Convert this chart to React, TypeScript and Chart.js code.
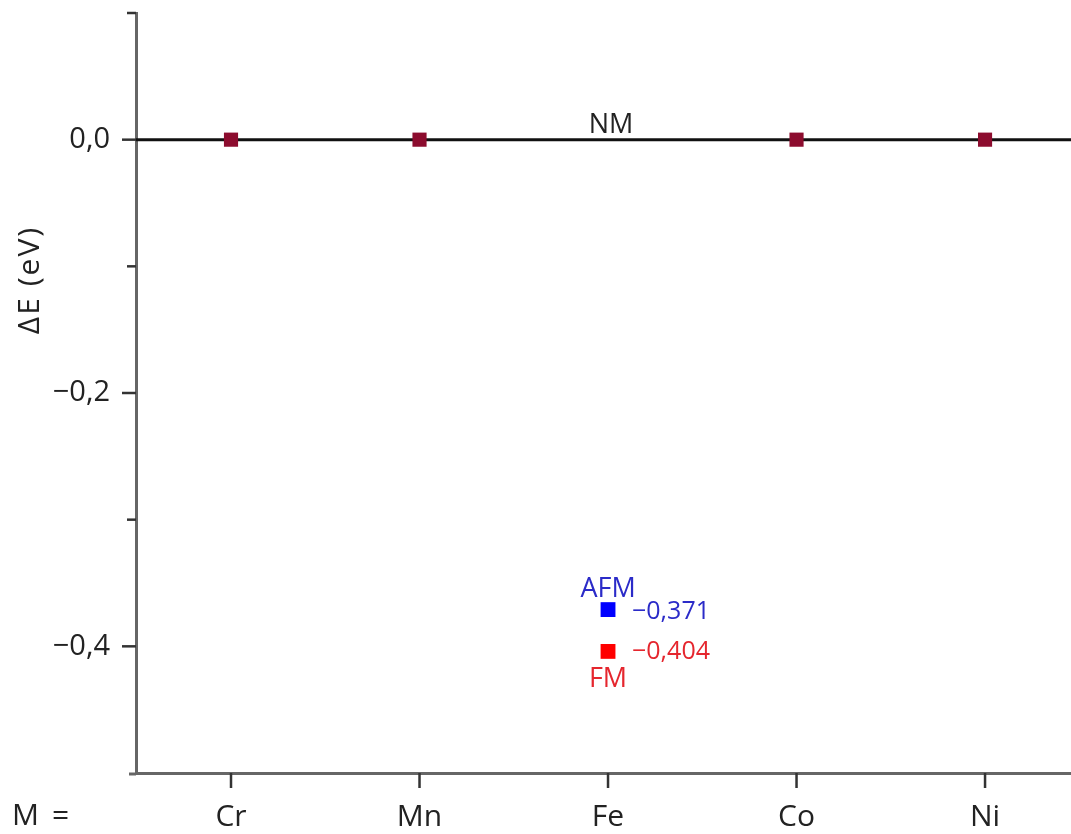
import React, { useEffect, useRef } from "react";
import { Chart, registerables } from "chart.js";

Chart.register(...registerables);

const categories = ["Cr", "Mn", "Fe", "Co", "Ni"];
const categoryPositions = [1, 2, 3, 4, 5];
const nmValues = [0, 0, null, 0, 0];
const afmValues = [null, null, -0.371, null, null];
const fmValues = [null, null, -0.404, null, null];
const yMajorTicks = [0, -0.2, -0.4];
const yMinorTicks = [0.1, -0.1, -0.3];
const afmLabel = "−0,371";
const fmLabel = "−0,404";

const FONT = "'Open Sans', 'DejaVu Sans', sans-serif";

function toPoints(values: (number | null)[]) {
  const pts: { x: number; y: number }[] = [];
  values.forEach((v, i) => {
    if (v !== null) pts.push({ x: categoryPositions[i], y: v });
  });
  return pts;
}

function fmt(v: number) {
  const s = Math.abs(v).toFixed(1).replace(".", ",");
  return v < -1e-9 ? "−" + s : s;
}

const overlayPlugin = {
  id: "overlay",
  beforeDatasetsDraw(chart: any) {
    const { ctx, chartArea, scales } = chart;
    const y0 = scales.y.getPixelForValue(0);
    ctx.save();
    ctx.strokeStyle = "#111";
    ctx.lineWidth = 3;
    ctx.beginPath();
    ctx.moveTo(chartArea.left, y0);
    ctx.lineTo(chartArea.right, y0);
    ctx.stroke();
    ctx.restore();
  },
  afterDraw(chart: any) {
    const { ctx, chartArea, scales } = chart;
    const xs = scales.x;
    const ys = scales.y;
    ctx.save();
    // y ticks
    ctx.strokeStyle = "#333";
    ctx.lineWidth = 2.5;
    yMajorTicks.forEach((v) => {
      const p = ys.getPixelForValue(v);
      ctx.beginPath();
      ctx.moveTo(chartArea.left - 14, p);
      ctx.lineTo(chartArea.left, p);
      ctx.stroke();
    });
    yMinorTicks.forEach((v) => {
      const p = ys.getPixelForValue(v);
      ctx.beginPath();
      ctx.moveTo(chartArea.left - 9, p);
      ctx.lineTo(chartArea.left, p);
      ctx.stroke();
    });
    // x ticks
    categoryPositions.forEach((v) => {
      const p = xs.getPixelForValue(v);
      ctx.beginPath();
      ctx.moveTo(p, chartArea.bottom);
      ctx.lineTo(p, chartArea.bottom + 15);
      ctx.stroke();
    });
    // x axis stub left of y axis
    ctx.strokeStyle = "#666";
    ctx.lineWidth = 3;
    ctx.beginPath();
    ctx.moveTo(chartArea.left - 7, chartArea.bottom + 1);
    ctx.lineTo(chartArea.left, chartArea.bottom + 1);
    ctx.stroke();

    // y axis title
    ctx.fillStyle = "#222";
    ctx.font = `30px ${FONT}`;
    ctx.textAlign = "center";
    ctx.textBaseline = "middle";
    ctx.save();
    ctx.translate(30, 280);
    ctx.rotate(-Math.PI / 2);
    (ctx as any).letterSpacing = "2px";
    ctx.fillText("ΔE (eV)", 0, 0);
    ctx.restore();

    // M =
    ctx.textAlign = "left";
    ctx.textBaseline = "alphabetic";
    ctx.font = `30px ${FONT}`;
    ctx.fillText("M", 12, 825);
    ctx.fillText("=", 52, 825);

    // NM label
    const xFe = xs.getPixelForValue(categoryPositions[2]);
    ctx.textAlign = "center";
    ctx.font = `27px ${FONT}`;
    ctx.fillStyle = "#222";
    ctx.fillText("NM", xFe + 3, ys.getPixelForValue(0) - 7);

    // AFM / FM
    const yAfm = ys.getPixelForValue(afmValues[2] as number);
    const yFm = ys.getPixelForValue(fmValues[2] as number);
    ctx.fillStyle = "#2b2bc8";
    ctx.fillText("AFM", xFe, yAfm - 13);
    ctx.textAlign = "left";
    ctx.font = `25px ${FONT}`;
    ctx.fillText(afmLabel, xFe + 24, yAfm + 9);

    ctx.fillStyle = "#e5262e";
    ctx.fillText(fmLabel, xFe + 24, yFm + 8);
    ctx.textAlign = "center";
    ctx.font = `27px ${FONT}`;
    ctx.fillText("FM", xFe, yFm + 36);
    ctx.restore();
  },
};

export default function App() {
  const canvasRef = useRef<HTMLCanvasElement | null>(null);

  useEffect(() => {
    document.body.style.margin = "0";
    const canvas = canvasRef.current;
    if (!canvas) return;
    const chart = new Chart(canvas, {
      type: "scatter",
      data: {
        datasets: [
          {
            label: "NM",
            data: toPoints(nmValues),
            pointStyle: "rect",
            pointRadius: 10,
            pointHoverRadius: 10,
            backgroundColor: "#8c0c2e",
            borderColor: "#8c0c2e",
            borderWidth: 0,
          },
          {
            label: "AFM",
            data: toPoints(afmValues),
            pointStyle: "rect",
            pointRadius: 10.5,
            pointHoverRadius: 10.5,
            backgroundColor: "#0000ff",
            borderColor: "#0000ff",
            borderWidth: 0,
          },
          {
            label: "FM",
            data: toPoints(fmValues),
            pointStyle: "rect",
            pointRadius: 10.5,
            pointHoverRadius: 10.5,
            backgroundColor: "#ff0000",
            borderColor: "#ff0000",
            borderWidth: 0,
          },
        ],
      },
      options: {
        animation: false,
        responsive: true,
        maintainAspectRatio: false,
        layout: { padding: { top: 13, right: 0, left: 0, bottom: 0 }, autoPadding: false },
        plugins: {
          legend: { display: false },
          tooltip: { enabled: false },
        },
        scales: {
          x: {
            type: "linear",
            min: 0.496,
            max: 5.456,
            grid: { display: false },
            border: { display: true, color: "#666", width: 3 },
            afterBuildTicks: (scale: any) => {
              scale.ticks = categoryPositions.map((v) => ({ value: v }));
            },
            afterFit: (scale: any) => {
              scale.height = 61;
              scale.paddingLeft = 0;
              scale.paddingRight = 0;
              scale.paddingTop = 0;
              scale.paddingBottom = 0;
            },
            ticks: {
              autoSkip: false,
              maxRotation: 0,
              padding: 18,
              color: "#222",
              font: { family: FONT, size: 30 },
              callback: (v: any) => {
                const i = categoryPositions.indexOf(Number(v));
                return i >= 0 ? categories[i] : "";
              },
            },
          },
          y: {
            type: "linear",
            min: -0.5,
            max: 0.1,
            grid: { display: false },
            border: { display: true, color: "#666", width: 3 },
            afterBuildTicks: (scale: any) => {
              scale.ticks = yMajorTicks.map((v) => ({ value: v }));
            },
            afterFit: (scale: any) => {
              scale.width = 136;
              scale.paddingLeft = 0;
              scale.paddingRight = 0;
              scale.paddingTop = 0;
              scale.paddingBottom = 0;
            },
            ticks: {
              autoSkip: false,
              padding: 18,
              color: "#222",
              font: { family: FONT, size: 29 },
              callback: (v: any) => fmt(Number(v)),
            },
          },
        },
      },
      plugins: [overlayPlugin],
    });
    return () => chart.destroy();
  }, []);

  return (
    <div style={{ width: 1071, height: 834, position: "relative", background: "#fff" }}>
      <canvas ref={canvasRef} />
    </div>
  );
}
